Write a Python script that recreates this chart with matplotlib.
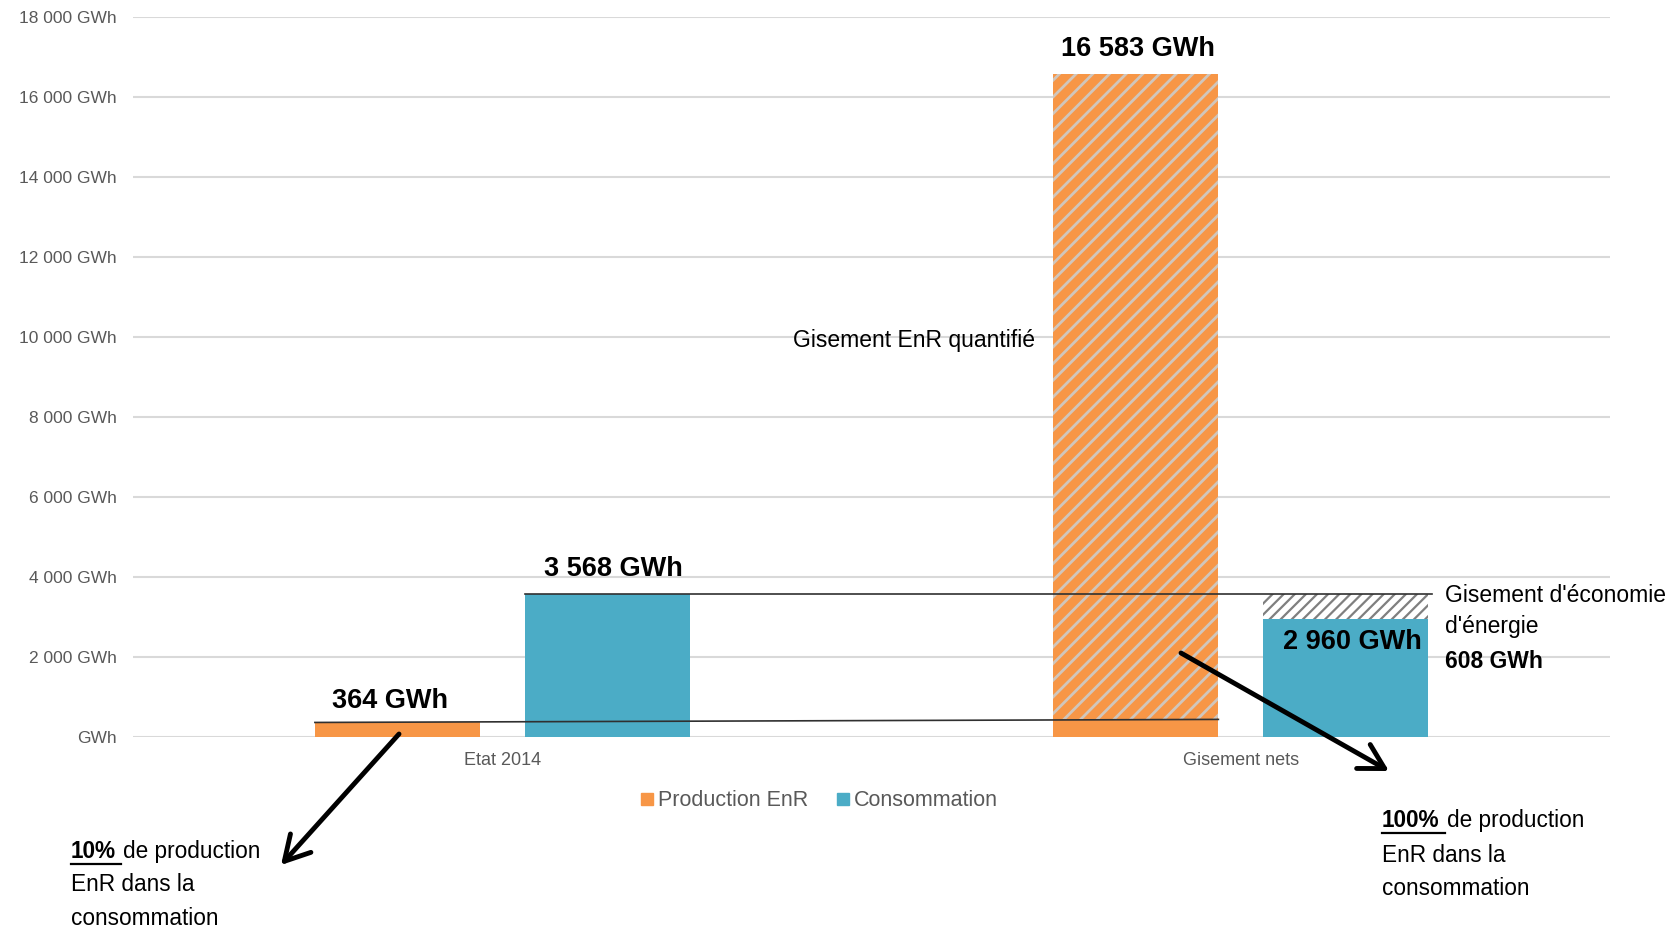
import matplotlib
matplotlib.use("Agg")
import matplotlib.pyplot as plt
from matplotlib import font_manager
from matplotlib.lines import Line2D

# ---------------- data ----------------
categories = ["Etat 2014", "Gisement nets"]
production_enr = [364, 440]          # solid orange part
gisement_enr_total = [0, 16583]      # hatched orange bar top
consommation = [3568, 2960]
economie = [0, 608]                  # hatched saving on top of consumption

ytick_values = [0, 2000, 4000, 6000, 8000, 10000, 12000, 14000, 16000, 18000]
ytick_labels = ["GWh", "2 000 GWh", "4 000 GWh", "6 000 GWh", "8 000 GWh",
                "10 000 GWh", "12 000 GWh", "14 000 GWh", "16 000 GWh", "18 000 GWh"]
legend_labels = ["Production EnR", "Consommation"]

lbl_364 = "364 GWh"
lbl_3568 = "3 568 GWh"
lbl_16583 = "16 583 GWh"
lbl_2960 = "2 960 GWh"

# ---------------- style ----------------
names = {f.name for f in font_manager.fontManager.ttflist}
FONT = "Liberation Sans" if "Liberation Sans" in names else "DejaVu Sans"
plt.rcParams["font.family"] = [FONT, "DejaVu Sans"]

ORANGE = "#F79646"
BLUE = "#4BACC6"
GRAY_TXT = "#595959"
GRID = "#d9d9d9"

W, H = 1681, 932
fig = plt.figure(figsize=(W / 100, H / 100), dpi=100)
fig.patch.set_facecolor("white")

ax = fig.add_axes([133 / W, 1 - 737 / H, (1610 - 133) / W, (737 - 17.3) / H])
ax.set_xlim(-0.5, 1.5)
ax.set_ylim(0, 18000)
ax.set_axisbelow(True)
for s in ax.spines.values():
    s.set_visible(False)
ax.yaxis.grid(True, color=GRID, lw=1.5)
ax.set_yticks(ytick_values, ytick_labels)
ax.tick_params(axis="y", length=0, pad=11.5, labelsize=12.5, labelcolor=GRAY_TXT)
ax.set_xticks([0, 1], categories)
ax.tick_params(axis="x", length=0, pad=11, labelsize=13, labelcolor=GRAY_TXT)

x = [0, 1]
off = 0.142
bw = 0.2234
xp = [xi - off for xi in x]
xc = [xi + off for xi in x]

# production bars (solid)
ax.bar(xp, production_enr, width=bw, color=ORANGE, lw=0, zorder=2)
# hatched quantified potential
plt.rcParams["hatch.linewidth"] = 2.0
hb_h = [t - p if t > 0 else 0 for t, p in zip(gisement_enr_total, production_enr)]
ax.bar(xp, hb_h, bottom=production_enr, width=bw, color=ORANGE,
       hatch="//", edgecolor="#d0c6bc", lw=0, zorder=2)
# consumption bars
ax.bar(xc, consommation, width=bw, color=BLUE, lw=0, zorder=2)
plt.rcParams["hatch.linewidth"] = 1.6
ax.bar(xc, economie, bottom=consommation, width=bw, color="white",
       hatch="///", edgecolor="#7f7f7f", lw=0, zorder=2)

# connecting lines
ax.plot([xp[0] - bw / 2, xp[1] + bw / 2], [production_enr[0], production_enr[1]],
        color="#303030", lw=1.2, zorder=3)
ax.plot([xc[0] - bw / 2, xc[1] + bw / 2 + 0.005], [consommation[0], consommation[0]],
        color="#303030", lw=1.2, zorder=3)

# value labels
bold = dict(fontsize=19.5, fontweight="bold", ha="center", va="center", color="black")
ax.annotate(lbl_364, (xp[0], production_enr[0]), xytext=(-7, 21.5),
            textcoords="offset pixels", **bold)
ax.annotate(lbl_3568, (xc[0], consommation[0]), xytext=(6, 25.5),
            textcoords="offset pixels", **bold)
ax.annotate(lbl_16583, (xp[1], gisement_enr_total[1]), xytext=(2, 24.5),
            textcoords="offset pixels", **bold)
ax.annotate(lbl_2960, (xc[1], consommation[1]), xytext=(7, -23),
            textcoords="offset pixels", **bold)


def ptext(px, py, s, **kw):
    return fig.text(px / W, 1 - py / H, s, **kw)


ptext(793, 347, "Gisement EnR quantifié", fontsize=16.5, va="baseline", ha="left")
ptext(1445, 602, "Gisement d'économie", fontsize=16.5, va="baseline")
ptext(1445, 633, "d'énergie", fontsize=16.5, va="baseline")
ptext(1445, 668, "608 GWh", fontsize=16.5, va="baseline", fontweight="bold")

# arrows
arrow_kw = dict(arrowstyle="->,head_length=0.8,head_width=0.45", color="black",
                lw=3.5, mutation_scale=22, shrinkA=0, shrinkB=0)
ax.annotate("", xy=(281, H - 865), xytext=(399, H - 734), xycoords="figure pixels",
            textcoords="figure pixels", arrowprops=arrow_kw, annotation_clip=False)
ax.annotate("", xy=(1389, H - 771), xytext=(1181, H - 653), xycoords="figure pixels",
            textcoords="figure pixels", arrowprops=arrow_kw, annotation_clip=False)

# annotation blocks with underlined percentages
fig.canvas.draw()
renderer = fig.canvas.get_renderer()


def block(px, base_ys, pct, fs=16.3):
    t = ptext(px, base_ys[0], pct, fontsize=fs, fontweight="bold", va="baseline")
    bb = t.get_window_extent(renderer)
    x1 = bb.x1
    fig.add_artist(Line2D([px / W, (x1 + 5) / W],
                          [1 - (base_ys[0] + 6) / H, 1 - (base_ys[0] + 6) / H],
                          transform=fig.transFigure, color="black", lw=1.6))
    ptext(x1 + 7, base_ys[0], "de production", fontsize=fs, va="baseline")
    ptext(px, base_ys[1], "EnR dans la", fontsize=fs, va="baseline")
    ptext(px, base_ys[2], "consommation", fontsize=fs, va="baseline")


block(71, [858, 891, 925], "10%")
block(1382, [827, 862, 895], "100%")

# legend
handles = [Line2D([], [], marker="s", color=c, linestyle="none", markersize=8)
           for c in (ORANGE, BLUE)]
fig.legend(handles, legend_labels, loc="center", bbox_to_anchor=(818 / W, 1 - 801 / H),
           ncol=2, frameon=False, fontsize=15.5, handletextpad=0.1,
           columnspacing=1.2, labelcolor=GRAY_TXT, handlelength=0.8)

fig.savefig("out.png", dpi=100)
